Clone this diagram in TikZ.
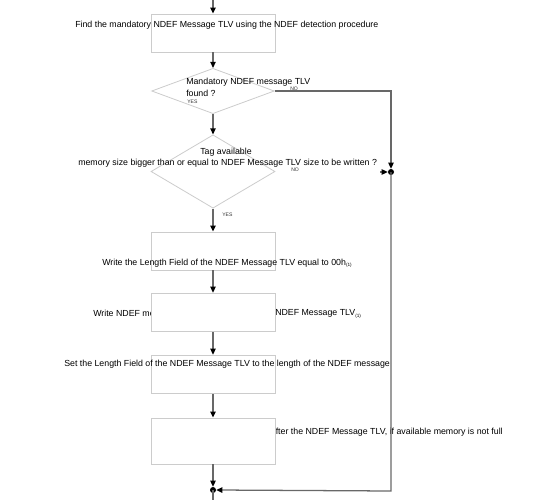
\documentclass[tikz,border=0pt]{standalone}
\usepackage{fontspec}
\setmainfont{Liberation Sans}
\usetikzlibrary{shapes.geometric,arrows.meta}
\definecolor{boxgray}{HTML}{CCCCCC}
\definecolor{linegray}{HTML}{686868}
\tikzset{
  px/.style={x=0.75pt,y=-0.75pt},
  stepbox/.style={draw=boxgray,line width=0.7pt,fill=white,rectangle,inner sep=0pt,minimum width=93pt},
  decision/.style={draw=boxgray,line width=0.6pt,fill=white,diamond,inner sep=0pt},
  conn/.style={draw=linegray,line width=0.95pt},
  flow/.style={conn,-{Triangle[length=4.5pt,width=4pt,black]}},
  txt/.style={inner sep=0pt,font=\fontsize{6.6}{8}\selectfont,text=black},
  tiny/.style={inner sep=0pt,font=\fontsize{3.8}{4}\selectfont,text=black!80},
  junction/.style={circle,fill=black,inner sep=0pt,minimum size=4.5pt}
}
\newcommand{\subone}{\textsubscript{\fontsize{3.5}{4}\selectfont(1)}}
\begin{document}
\begin{tikzpicture}[px]
\useasboundingbox (0,0) rectangle (540,500);
% shapes drawn below texts
\node[stepbox,minimum height=28.5pt] (b1) at (213,33) {};
\node[decision,minimum width=92pt,minimum height=34pt] (d1) at (213,91) {};
\node[decision,minimum width=93pt,minimum height=55pt] (d2) at (213,171.5) {};
\node[stepbox,minimum height=28.5pt] (b2) at (213,251) {};
\node[stepbox,minimum height=29pt] (b4) at (213,374.5) {};
\node[junction] (j1) at (391,172) {};
\node[junction] (j2) at (213,490) {};
\coordinate (top) at (213,0);
\coordinate (bot) at (213,500);
\coordinate (c1) at (391,91);
\coordinate (c2) at (391,491);
\coordinate (nofrom) at (380,172);
% texts
\node[txt,anchor=west] (t1) at (75,25) {Find the mandatory NDEF Message TLV using the NDEF detection procedure};
\node[txt,anchor=west] (t2a) at (186,82) {Mandatory NDEF message TLV};
\node[txt,anchor=west] (t2b) at (186,93) {found ?};
\node[tiny,anchor=west] (y1) at (187,101.5) {YES};
\node[tiny,anchor=west] (n1) at (290,88.5) {NO};
\node[txt] (t3a) at (226,152) {Tag available};
\node[txt,anchor=west] (t3b) at (78,163) {memory size bigger than or equal to NDEF Message TLV size to be written ?};
\node[tiny,anchor=west] (n2) at (291,170) {NO};
\node[tiny,anchor=west] (y2) at (222,215) {YES};
\node[txt,anchor=west] (t4) at (102,263) {Write the Length Field of the NDEF Message TLV equal to 00h\subone};
\node[txt,anchor=west] (t5a) at (93,314) {Write NDEF message in the Value field of the};
\node[txt,anchor=west] (t5b) at (275,314) {NDEF Message TLV\subone};
\node[txt,anchor=west] (t6) at (64,364.5) {Set the Length Field of the NDEF Message TLV to the length of the NDEF message};
\node[txt,anchor=east] (t7) at (503,432) {Write Terminator TLV after the NDEF Message TLV, if available memory is not full};
% boxes drawn over their texts
\node[stepbox,minimum height=29pt] (b3) at (213,312.5) {};
\node[stepbox,minimum height=34.5pt] (b5) at (213,441) {};
% connectors
\draw[flow] (top) -- (b1.north);
\draw[flow] (b1.south) -- (d1.north);
\draw[flow] (d1.south) -- (d2.north);
\draw[flow] (d2.south) -- (b2.north);
\draw[flow] (b2.south) -- (b3.north);
\draw[flow] (b3.south) -- (b4.north);
\draw[flow] (b4.south) -- (b5.north);
\draw[flow] (b5.south) -- (j2.north);
\draw[conn] (j2.center) -- (bot);
\draw[flow] (d1.east) -- (c1) -- (j1.north);
\draw[flow] (nofrom) -- (j1.west);
\draw[flow] (j1.center) -- (c2) -- (j2.east);
\end{tikzpicture}
\end{document}
